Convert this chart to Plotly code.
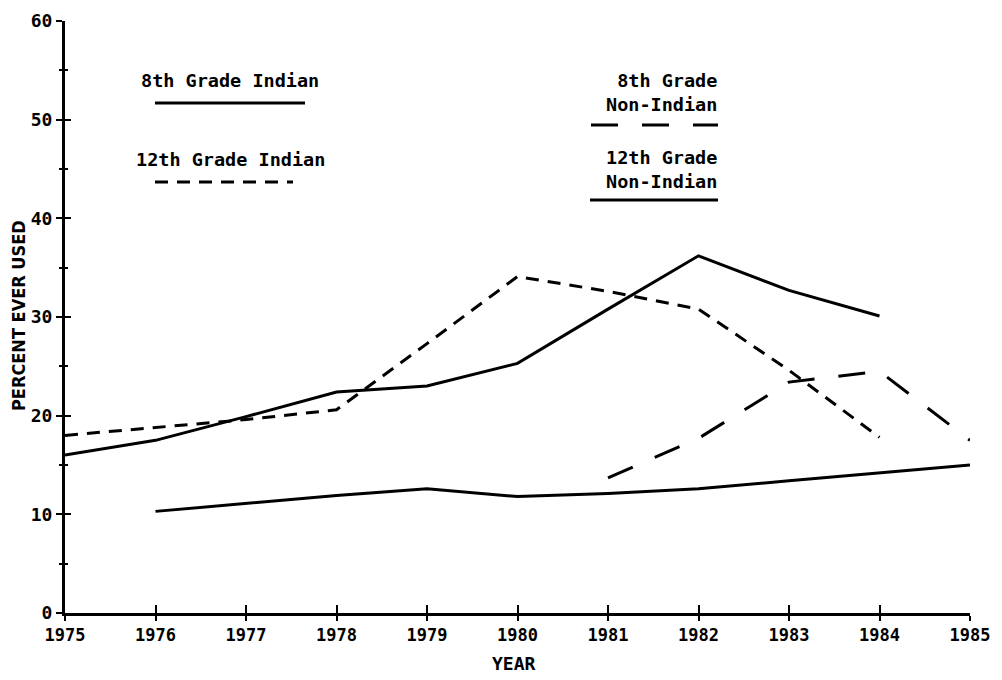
import plotly.graph_objects as go

# ---- data ----
years = [1975, 1976, 1977, 1978, 1979, 1980, 1981, 1982, 1983, 1984, 1985]
grade8_indian = [16.0, 17.5, 19.9, 22.4, 23.0, 25.3, 30.8, 36.2, 32.7, 30.1, None]
grade12_indian = [18.0, 18.8, 19.6, 20.6, 27.3, 34.1, 32.6, 30.8, 24.6, 17.8, None]
grade8_nonindian = [None, None, None, None, None, None, 13.7, 17.7, 23.4, 24.5, 17.5]
grade12_nonindian = [None, 10.3, 11.1, 11.9, 12.6, 11.8, 12.1, 12.6, 13.4, 14.2, 15.0]
x_ticks = [1975, 1976, 1977, 1978, 1979, 1980, 1981, 1982, 1983, 1984, 1985]
y_ticks = [0, 10, 20, 30, 40, 50, 60]

W, H = 1002, 680
OFF = 8  # page body margin
# target plot area on screen
SX0, SX1, SY0, SY1 = 65, 970, 21, 613
L = SX0 - OFF
T = SY0 - OFF
R = W - (SX1 - OFF)
B = H - (SY1 - OFF)


def px(x):
    return (x - SX0) / (SX1 - SX0)


def py(y):
    return 1 - (y - SY0) / (SY1 - SY0)


FONT = "DejaVu Sans Mono"
BLACK = "#000000"
LW = 3

fig = go.Figure()

fig.add_trace(go.Scatter(x=years, y=grade8_indian, mode="lines", name="8th Grade Indian",
                         line=dict(color=BLACK, width=LW)))
fig.add_trace(go.Scatter(x=years, y=grade12_indian, mode="lines", name="12th Grade Indian",
                         line=dict(color=BLACK, width=LW, dash="13px,9px")))
fig.add_trace(go.Scatter(x=years, y=grade8_nonindian, mode="lines", name="8th Grade Non-Indian",
                         line=dict(color=BLACK, width=LW, dash="27px,24px")))
fig.add_trace(go.Scatter(x=years, y=grade12_nonindian, mode="lines", name="12th Grade Non-Indian",
                         line=dict(color=BLACK, width=LW)))
# invisible trace to anchor the overlay axes (tick marks on the inner side)
fig.add_trace(go.Scatter(x=[1975], y=[0], xaxis="x2", yaxis="y2", mode="markers",
                         marker=dict(opacity=0), showlegend=False, hoverinfo="skip"))

tickfont = dict(family=FONT, size=17, color=BLACK, weight="bold")
ytickfont = dict(family=FONT, size=18, color=BLACK, weight="bold")

fig.update_layout(
    width=W, height=H,
    margin=dict(l=L, r=R, t=T, b=B, autoexpand=False),
    paper_bgcolor="white", plot_bgcolor="white",
    showlegend=False,
    xaxis=dict(range=[1975, 1985], tickvals=x_ticks, ticktext=[str(v) for v in x_ticks],
               showgrid=False, zeroline=False, showline=True, linecolor=BLACK, linewidth=LW,
               ticks="outside", ticklen=5, tickwidth=2, tickcolor=BLACK, tickfont=tickfont,
               automargin=False, ticklabeloverflow="allow"),
    yaxis=dict(range=[0, 60], tickvals=y_ticks, showgrid=False, zeroline=False,
               showline=True, linecolor=BLACK, linewidth=LW,
               ticks="outside", ticklen=6, tickwidth=2, tickcolor=BLACK, tickfont=ytickfont,
               minor=dict(dtick=5, ticks="outside", ticklen=3, tickwidth=2, tickcolor=BLACK),
               automargin=False, ticklabeloverflow="allow"),
    xaxis2=dict(range=[1975, 1985], tickvals=x_ticks, overlaying="x", anchor="y2", side="bottom",
                showgrid=False, zeroline=False, showline=False, showticklabels=False,
                ticks="inside", ticklen=8, tickwidth=2, tickcolor=BLACK, automargin=False),
    yaxis2=dict(range=[0, 60], tickvals=y_ticks, overlaying="y", anchor="x2", side="left",
                showgrid=False, zeroline=False, showline=False, showticklabels=False,
                ticks="inside", ticklen=6, tickwidth=2, tickcolor=BLACK,
                minor=dict(dtick=5, ticks="inside", ticklen=3, tickwidth=2, tickcolor=BLACK),
                automargin=False),
)

labfont = dict(family=FONT, size=18.5, color=BLACK, weight="bold")

# axis titles
fig.add_annotation(text="YEAR", xref="paper", yref="paper", x=px(514), y=py(663),
                   showarrow=False, font=dict(family=FONT, size=18, color=BLACK, weight="bold"),
                   xanchor="center", yanchor="middle")
fig.add_annotation(text="PERCENT EVER USED", xref="paper", yref="paper", x=px(19), y=py(316),
                   showarrow=False, textangle=-90,
                   font=dict(family="DejaVu Sans Condensed, DejaVu Sans", size=18, color=BLACK, weight="bold"),
                   xanchor="center", yanchor="middle")

# legend texts
fig.add_annotation(text="8th Grade Indian", xref="paper", yref="paper", x=px(230), y=py(81),
                   showarrow=False, font=labfont, xanchor="center", yanchor="middle")
fig.add_annotation(text="12th Grade Indian", xref="paper", yref="paper", x=px(230), y=py(160),
                   showarrow=False, font=labfont, xanchor="center", yanchor="middle")
fig.add_annotation(text="8th Grade<br>Non-Indian", xref="paper", yref="paper", x=px(719), y=py(93),
                   showarrow=False, font=labfont, xanchor="right", yanchor="middle", align="right")
fig.add_annotation(text="12th Grade<br>Non-Indian", xref="paper", yref="paper", x=px(719), y=py(169),
                   showarrow=False, font=labfont, xanchor="right", yanchor="middle", align="right")

# legend line samples
samples = [
    (155, 305, 103, None),
    (155, 293, 182, "13px,9px"),
    (591, 718, 125, "27px,24px"),
    (590, 718, 200, None),
]
for x0, x1, yy, dash in samples:
    ln = dict(color=BLACK, width=LW)
    if dash:
        ln["dash"] = dash
    fig.add_shape(type="line", xref="paper", yref="paper", x0=px(x0), x1=px(x1),
                  y0=py(yy), y1=py(yy), line=ln)

fig.write_html("out.html")
